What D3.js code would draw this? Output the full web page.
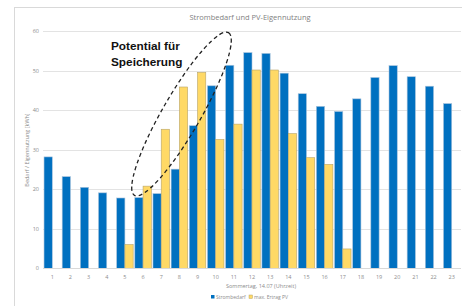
<!DOCTYPE html>
<html>
<head>
<meta charset="utf-8">
<script src="https://cdnjs.cloudflare.com/ajax/libs/d3/7.8.5/d3.min.js"></script>
<style>
body { margin: 0; background: #fff; }
svg { display: block; font-family: "Open Sans", "Liberation Sans", sans-serif; }
</style>
</head>
<body>
<script>
// hours of the day (x categories)
var hours = ["1","2","3","4","5","6","7","8","9","10","11","12","13","14","15","16","17","18","19","20","21","22","23"];
// Strombedarf per hour
var bedarf = [28.2, 23.2, 20.5, 19.1, 17.8, 17.9, 18.9, 25.1, 36.1, 46.2, 51.4, 54.6, 54.4, 49.4, 44.2, 41.0, 39.7, 42.9, 48.3, 51.3, 48.5, 46.1, 41.7];
// max. Ertrag PV per hour (0 = nothing)
var ertrag = [0, 0, 0, 0, 6.0, 20.8, 35.2, 45.9, 49.6, 32.6, 36.5, 50.2, 50.2, 34.1, 28.0, 26.3, 4.9, 0, 0, 0, 0, 0, 0];
var yTicks = [0, 10, 20, 30, 40, 50, 60];
var seriesNames = ["Strombedarf", "max. Ertrag PV"];

var width = 462, height = 306;

var svg = d3.select("body")
    .append("svg")
    .attr("width", width)
    .attr("height", height);

// chart frame
svg.append("rect")
    .attr("x", 14.5)
    .attr("y", 7.5)
    .attr("width", 460)
    .attr("height", 310)
    .attr("fill", "none")
    .attr("stroke", "#d9d9d9");

var x = d3.scaleBand()
    .domain(hours)
    .range([43.2, 460.8]);

var x1 = d3.scaleBand()
    .domain(["b", "e"])
    .range([0, x.bandwidth()])
    .paddingOuter(0.1);

var y = d3.scaleLinear()
    .domain([0, 60])
    .range([268.3, 31.3]);

// gridlines
svg.append("g")
    .selectAll("line")
    .data(yTicks)
    .enter()
    .append("line")
    .attr("x1", 43)
    .attr("x2", 461)
    .attr("y1", function (d) { return Math.round(y(d)) + 0.5; })
    .attr("y2", function (d) { return Math.round(y(d)) + 0.5; })
    .attr("stroke", "#e3e3e3")
    .attr("stroke-width", 1);

// y tick labels
svg.append("g")
    .selectAll("text")
    .data(yTicks)
    .enter()
    .append("text")
    .attr("x", 39)
    .attr("y", function (d) { return y(d) + 2; })
    .attr("text-anchor", "end")
    .attr("font-size", 5.5)
    .attr("fill", "#8c8c8c")
    .text(function (d) { return d; });

// blue bars
svg.append("g")
    .selectAll("rect")
    .data(bedarf)
    .enter()
    .append("rect")
    .attr("x", function (d, i) { return x(hours[i]) + x1("b"); })
    .attr("y", function (d) { return y(d); })
    .attr("width", x1.bandwidth())
    .attr("height", function (d) { return y(0) - y(d); })
    .attr("fill", "#0070c0")
    .attr("stroke", "#a8c3dc")
    .attr("stroke-width", 0.6);

// yellow bars (only hours with PV output)
var pv = ertrag.map(function (d, i) { return { hour: hours[i], value: d }; })
    .filter(function (d) { return d.value > 0; });

svg.append("g")
    .selectAll("rect")
    .data(pv)
    .enter()
    .append("rect")
    .attr("x", function (d) { return x(d.hour) + x1("e"); })
    .attr("y", function (d) { return y(d.value); })
    .attr("width", x1.bandwidth())
    .attr("height", function (d) { return y(0) - y(d.value); })
    .attr("fill", "#ffd966")
    .attr("stroke", "#b8a56a")
    .attr("stroke-width", 0.6);

// baseline
svg.append("line")
    .attr("x1", 43)
    .attr("x2", 461)
    .attr("y1", 268.5)
    .attr("y2", 268.5)
    .attr("stroke", "#d9d9d9");

// x tick labels
svg.append("g")
    .selectAll("text")
    .data(hours)
    .enter()
    .append("text")
    .attr("x", function (d) { return x(d) + x.bandwidth() / 2; })
    .attr("y", 279)
    .attr("text-anchor", "middle")
    .attr("font-size", 5.5)
    .attr("fill", "#8c8c8c")
    .text(function (d) { return d; });

// title
svg.append("text")
    .attr("x", 250)
    .attr("y", 20)
    .attr("text-anchor", "middle")
    .attr("font-size", 7.5)
    .attr("fill", "#7f7f7f")
    .text("Strombedarf und PV-Eigennutzung");

// axis titles
svg.append("text")
    .attr("transform", "translate(29,150) rotate(-90)")
    .attr("text-anchor", "middle")
    .attr("font-size", 5.5)
    .attr("fill", "#8c8c8c")
    .text("Bedarf / Eigennutzung [kWh]");

svg.append("text")
    .attr("x", 261)
    .attr("y", 288)
    .attr("text-anchor", "middle")
    .attr("font-size", 5.5)
    .attr("fill", "#8c8c8c")
    .text("Sommertag, 14.07 (Uhrzeit)");

// legend
var legend = svg.append("g");
var legendX = [211, 249];
var legendFill = ["#0070c0", "#ffd966"];
seriesNames.forEach(function (name, i) {
    legend.append("rect")
        .attr("x", legendX[i])
        .attr("y", 295)
        .attr("width", 3.5)
        .attr("height", 3.5)
        .attr("fill", legendFill[i])
        .attr("stroke", i == 1 ? "#b8a56a" : "none")
        .attr("stroke-width", 0.5);
    legend.append("text")
        .attr("x", legendX[i] + 5)
        .attr("y", 298.8)
        .attr("font-size", 5)
        .attr("fill", "#8c8c8c")
        .text(name);
});

// annotation
var note = svg.append("text")
    .attr("font-family", "'Liberation Sans', Arial, sans-serif")
    .attr("font-weight", "bold")
    .attr("font-size", 11.8)
    .attr("fill", "#111");
note.append("tspan").attr("x", 111).attr("y", 50).text("Potential für");
note.append("tspan").attr("x", 111).attr("y", 66).text("Speicherung");

svg.append("ellipse")
    .attr("cx", 0)
    .attr("cy", 0)
    .attr("rx", 94)
    .attr("ry", 19)
    .attr("transform", "translate(181.5,114) rotate(-60)")
    .attr("fill", "none")
    .attr("stroke", "#222")
    .attr("stroke-width", 1.3)
    .attr("stroke-dasharray", "4,3");
</script>
</body>
</html>
